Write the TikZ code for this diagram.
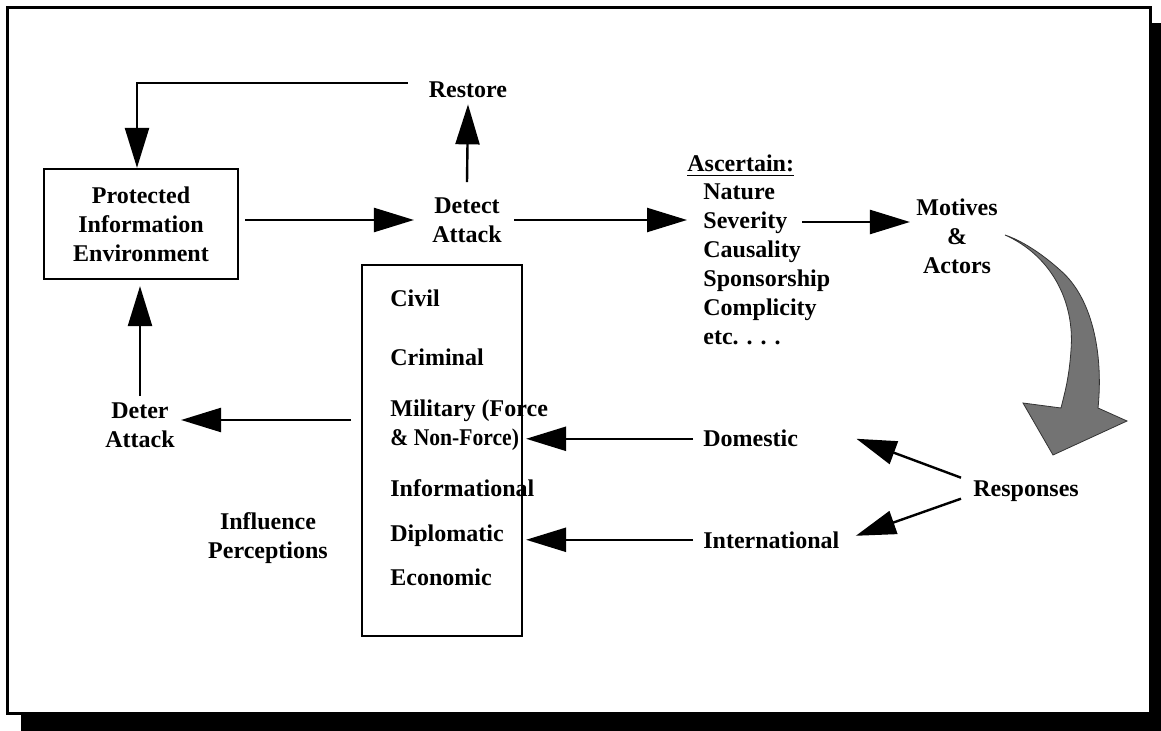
\documentclass[tikz,border=0pt]{standalone}
\usepackage{fontspec}
\setmainfont{Liberation Serif}
\usetikzlibrary{arrows.meta,positioning,calc}

\begin{document}
\begin{tikzpicture}[
x=0.5pt,
y=-0.5pt,
every node/.style={font=\fontsize{12}{14.5}\selectfont\bfseries},
frame/.style={draw,line width=1.5pt,fill=white},
block/.style={rectangle,draw,line width=1.1pt,align=center,inner sep=0pt},
term/.style={align=center,inner sep=3pt},
item/.style={align=left,inner sep=0pt,anchor=base west},
arr/.style={-{Triangle[length=20pt,width=12pt]},line width=1.2pt},
curl/.style={fill=black!55,draw=black!80,line width=0.4pt}
]
\useasboundingbox (0,0) rectangle (1161,731);
% frame with shadow
\fill[black] (21,23) rectangle (1161,731);
\draw[frame] (7.5,7.5) rectangle (1150.5,713);

\node[block,minimum width=97pt,minimum height=55pt] (protect) at (141,224) {Protected\\Information\\Environment};
\node[term] (restore) at (468,90) {Restore};
\node[term] (detect) at (467,220) {Detect\\Attack};
\node[term] (deter) at (140,425) {Deter\\Attack};
\node[term] (influence) at (268,538) {Influence\\Perceptions};
\node[item] (ascert) at (687,172) {\underline{Ascertain:}};
\node[item] (asclist) at (703,345) {Nature\\Severity\\Causality\\Sponsorship\\Complicity\\etc. . . .};
\node[term] (motives) at (957,236) {Motives\\\&\\Actors};
\node[item] (responses) at (973,497) {Responses};
\node[item] (domestic) at (703,447) {Domestic};
\node[item] (international) at (703,548) {International};

% instruments box
\node[block,minimum width=80pt,minimum height=185.5pt] (tools) at (442,450.5) {};
\node[item] (civil) at (390,307) {Civil};
\node[item] (criminal) at (390,366) {Criminal};
\node[item] (military) at (390,446) {Military (Force\\{\addfontfeatures{FakeStretch=0.9}\& Non-Force)}};
\node[item] (informational) at (390,496) {Informational};
\node[item] (diplomatic) at (390,541) {Diplomatic};
\node[item] (economic) at (390,585) {Economic};

\coordinate (restorebend) at (137,83);
\coordinate (sevstart) at (802,222);
\coordinate (deterline) at (351,420);

\draw[arr] ([xshift=-7.5pt,yshift=3.5pt]restore.west) -- (restorebend) -- (protect.north -| restorebend);
\draw[arr] ([yshift=4.5pt]detect.north) -- (restore.south);
\draw[arr,shorten <=3pt,shorten >=6pt] (protect.east |- detect.west) -- (detect.west);
\draw[arr,shorten <=3pt,shorten >=8pt] (detect.east) -- (detect.east -| asclist.west);
\draw[arr] (sevstart) -- (sevstart -| motives.west);
\draw[arr] (deterline) -- (deterline -| deter.east);
\draw[arr,shorten >=3pt] (deter.north) -- (deter.north |- protect.south);
\draw[arr,shorten <=5pt,shorten >=1.5pt] (domestic.west) -- (domestic.west -| tools.east);
\draw[arr,shorten <=5pt,shorten >=1.5pt] (international.west) -- (international.west -| tools.east);
\draw[arr] ([shift={(-6pt,7pt)}]responses.west) -- ([xshift=29pt]domestic.east);
\draw[arr] ([shift={(-6pt,-3.5pt)}]responses.west) -- ([shift={(8pt,2pt)}]international.east);

% curved shaded arrow
\filldraw[curl] (1005,235) .. controls (1050,255) and (1075,300) .. (1071,350)
  .. controls (1069,380) and (1064,395) .. (1061,408) -- (1023,403) -- (1053,455) -- (1127,421) -- (1098,408)
  .. controls (1103,360) and (1095,300) .. (1060,270) .. controls (1040,252) and (1020,240) .. cycle;
\end{tikzpicture}
\end{document}
